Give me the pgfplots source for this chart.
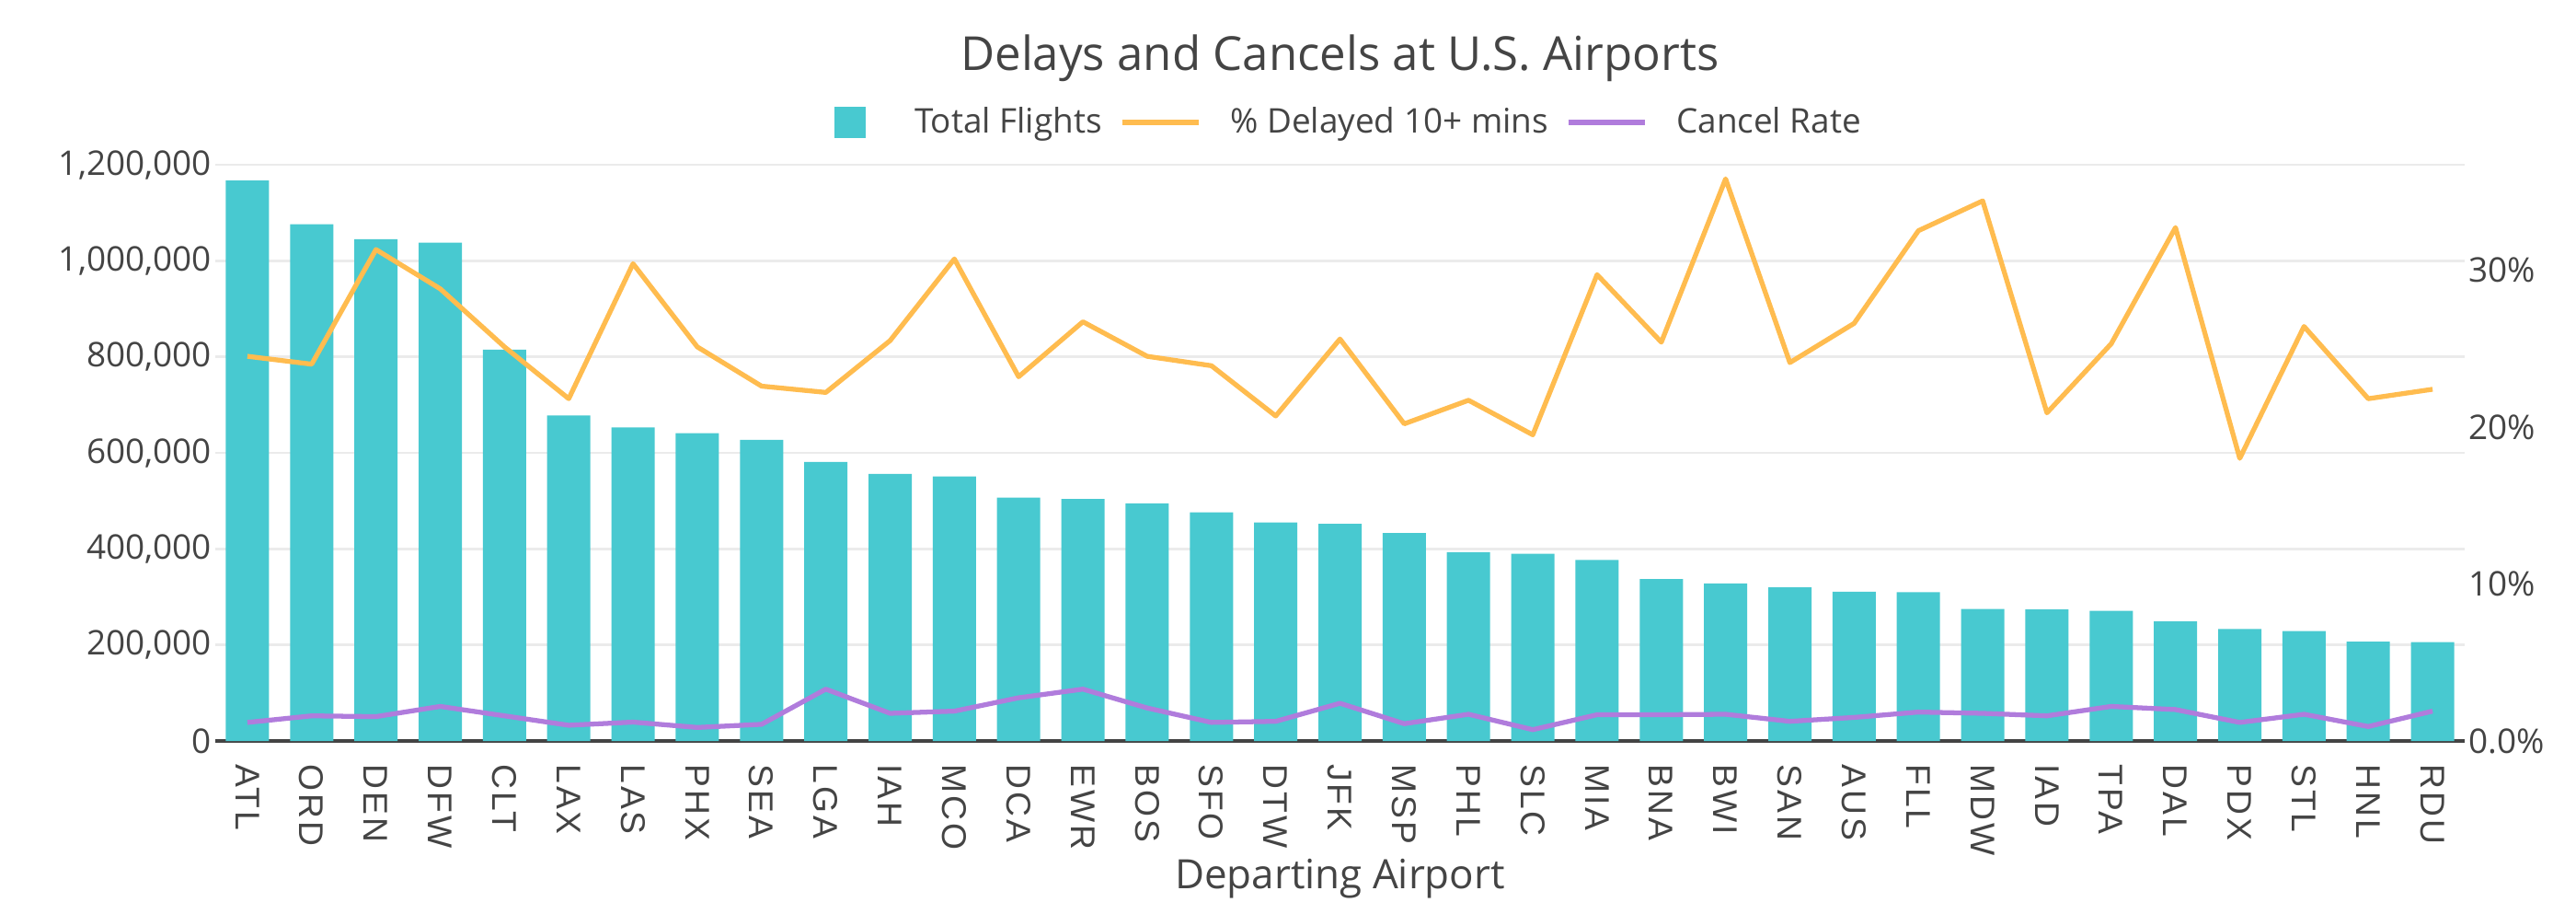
\documentclass[border=0pt]{standalone}
\usepackage{fontspec}
\setmainfont{Open Sans}
\newfontfamily\ticklabfont[LetterSpace=8]{Liberation Sans}
\usepackage{pgfplots}
\usepackage{pgfplotstable}
\pgfplotsset{compat=1.18}

\definecolor{barcol}{HTML}{48C9D0}
\definecolor{delaycol}{HTML}{FFBC4F}
\definecolor{cancelcol}{HTML}{B07CDC}
\definecolor{gridcol}{HTML}{EBEBEB}
\definecolor{zerocol}{HTML}{444444}
\definecolor{txt}{HTML}{444444}

% flights = total departures, delay = % delayed 10+ mins, cancel = cancel rate (%)
\pgfplotstableread{
idx code flights delay cancel
0 ATL 1167000 24.5 1.18
1 ORD 1076000 24.0 1.60
2 DEN 1045000 31.3 1.55
3 DFW 1038000 28.8 2.20
4 CLT 815000 25.1 1.60
5 LAX 678000 21.8 1.00
6 LAS 653000 30.4 1.20
7 PHX 641000 25.1 0.86
8 SEA 627000 22.6 1.06
9 LGA 581000 22.2 3.30
10 IAH 556000 25.5 1.76
11 MCO 551000 30.7 1.90
12 DCA 507000 23.2 2.75
13 EWR 504000 26.7 3.30
14 BOS 495000 24.5 2.10
15 SFO 476000 23.9 1.18
16 DTW 455000 20.7 1.25
17 JFK 452000 25.6 2.40
18 MSP 433000 20.2 1.10
19 PHL 393000 21.7 1.70
20 SLC 390000 19.5 0.72
21 MIA 377000 29.7 1.67
22 BNA 337000 25.4 1.67
23 BWI 328000 35.8 1.70
24 SAN 320000 24.1 1.25
25 AUS 311000 26.6 1.50
26 FLL 310000 32.5 1.84
27 MDW 275000 34.4 1.76
28 IAD 274000 20.9 1.60
29 TPA 271000 25.3 2.20
30 DAL 249000 32.7 2.00
31 PDX 233000 18.0 1.18
32 STL 229000 26.4 1.70
33 HNL 207000 21.8 0.92
34 RDU 206000 22.4 1.90
}\airports

\begin{document}
\begin{tikzpicture}
\path[use as bounding box] (0,0) rectangle (28cm,9.92cm);

\begin{axis}[
    at={(2.34cm,1.87cm)}, anchor=south west,
    scale only axis, width=24.45cm, height=6.26cm,
    xmin=-0.5, xmax=34.5, ymin=0, ymax=1200000,
    axis line style={draw=none},
    major tick length=0pt,
    xtick={0,...,34},
    xticklabels from table={\airports}{code},
    xticklabel style={rotate=-90, anchor=west, font=\ticklabfont\fontsize{10.6}{12}\selectfont, text=txt},
    xticklabel shift=0.13cm,
    ytick={0,200000,...,1200000},
    scaled y ticks=false,
    yticklabel style={font=\fontsize{10.5}{12}\selectfont, text=txt, inner xsep=1pt,
        /pgf/number format/.cd, fixed, 1000 sep={,}, assume math mode=true},
    ymajorgrids, grid style={gridcol, line width=0.8pt},
    extra y ticks={0}, extra y tick labels={},
    extra y tick style={grid style={zerocol, line width=0.9pt}},
    xlabel={Departing Airport},
    xlabel style={at={(axis description cs:0.5,0)}, anchor=center, yshift=-1.5cm,
        font=\fontsize{12.5}{14}\selectfont, text=txt},
    title={Delays and Cancels at U.S. Airports},
    title style={at={(axis description cs:0.5,1)}, anchor=center, yshift=0.95cm,
        font=\fontsize{14.5}{17}\selectfont, text=txt},
]
\addplot[ybar, bar width=0.47cm, fill=barcol, draw=none] table[x=idx, y=flights] {\airports};
\end{axis}

\begin{axis}[
    at={(2.34cm,1.87cm)}, anchor=south west,
    scale only axis, width=24.45cm, height=6.26cm,
    xmin=-0.5, xmax=34.5, ymin=0, ymax=36.7,
    axis x line=none,
    axis y line*=right,
    y axis line style={draw=none},
    major tick length=0pt,
    ytick={0,10,20,30},
    yticklabels={0.0\%,10\%,20\%,30\%},
    yticklabel style={font=\fontsize{10.5}{12}\selectfont, text=txt, inner xsep=1pt},
    legend columns=3,
    legend style={at={(axis description cs:0.5,1)}, anchor=center, yshift=0.46cm, xshift=0.12cm,
        draw=none, fill=none, font=\fontsize{10.5}{12}\selectfont, text=txt,
        /tikz/every even column/.style={column sep=0.12cm},
        /tikz/every odd column/.style={column sep=0.25cm}},
    legend image code/.code={\draw[#1] (0cm,0cm) -- (0.83cm,0cm);},
]
\addlegendimage{legend image code/.code={\path[draw=none, fill=none] (0cm,0cm) -- (0.55cm,0cm);
    \fill[barcol, draw=none] (0cm,-0.17cm) rectangle (0.34cm,0.17cm);}}
\addlegendentry{Total Flights}
\addplot[delaycol, line width=1.5pt, line join=round, sharp plot] table[x=idx, y=delay] {\airports};
\addlegendentry{\% Delayed 10+ mins}
\addplot[cancelcol, line width=1.5pt, line join=round, sharp plot] table[x=idx, y=cancel] {\airports};
\addlegendentry{Cancel Rate}
\end{axis}
\end{tikzpicture}
\end{document}
